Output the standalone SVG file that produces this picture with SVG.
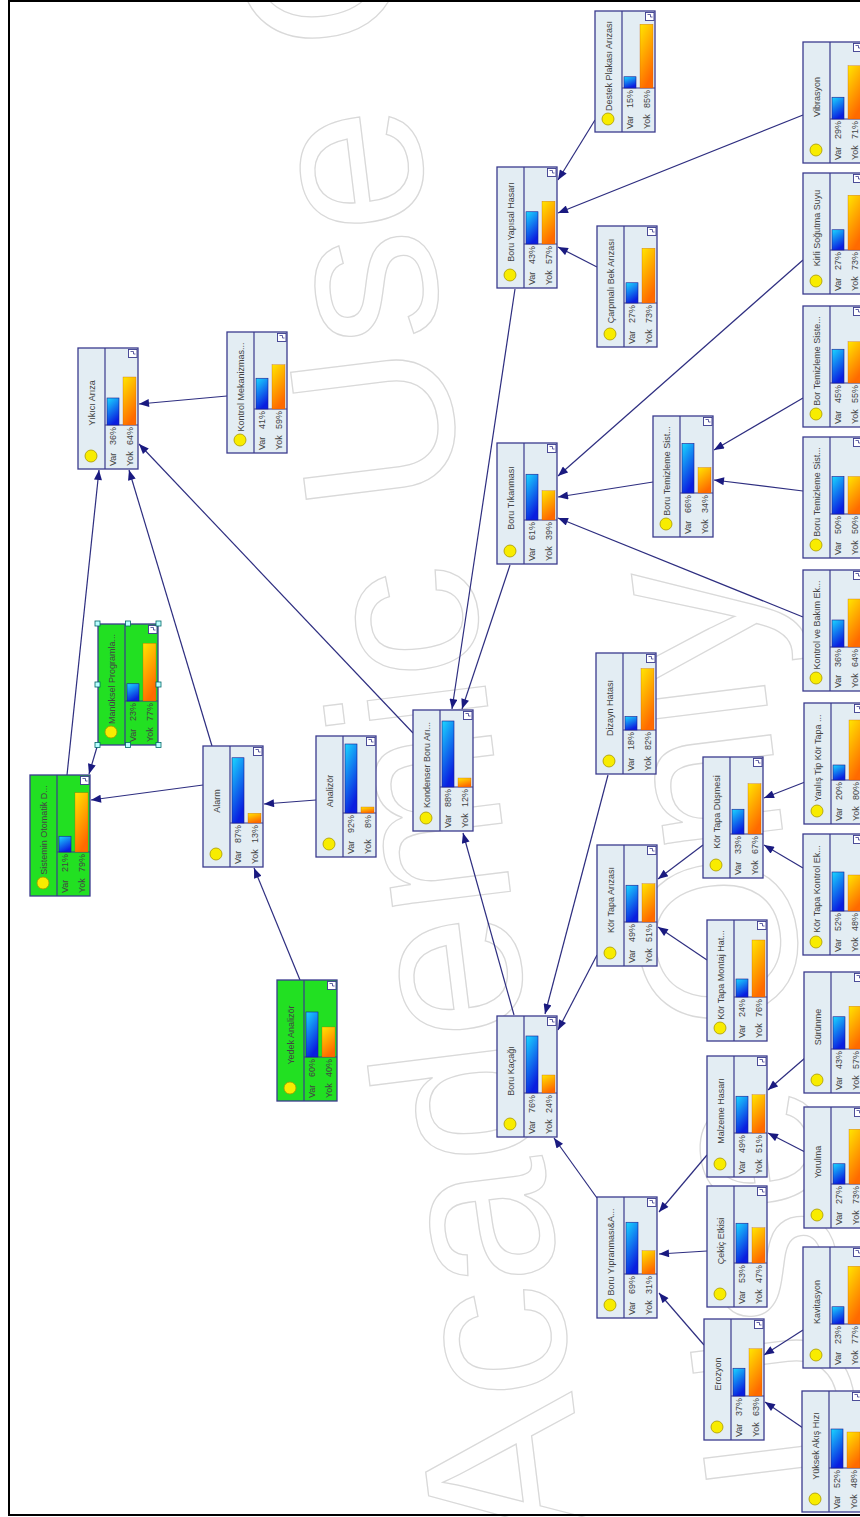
<svg xmlns="http://www.w3.org/2000/svg" xmlns:xlink="http://www.w3.org/1999/xlink" width="860" height="1517" viewBox="0 0 860 1517">
<style>
.t{font-family:"Liberation Sans",Arial,sans-serif;font-size:9px;fill:#444;text-anchor:middle}
.s{font-family:"Liberation Sans",Arial,sans-serif;font-size:9px;fill:#444}
.p{font-family:"Liberation Sans",Arial,sans-serif;font-size:9px;fill:#444;text-anchor:end}
.bb{fill:url(#gb);stroke:#1a1a90;stroke-width:0.6}
.bo{fill:url(#go);stroke:#c05000;stroke-width:0.3}
.n{fill:#e3edf3}
.g{fill:#22e022}
.h{fill:#bff;stroke:#066;stroke-width:0.8}
.wm{font-family:"Liberation Sans",Arial,sans-serif;font-size:225px;fill:none;stroke:#d9d9d9;stroke-width:1.3}
</style>
<defs>
<linearGradient id="gb" x1="0" y1="0" x2="0.4" y2="1"><stop offset="0" stop-color="#1ad8ff"/><stop offset="1" stop-color="#0a1ee0"/></linearGradient>
<linearGradient id="go" x1="0" y1="0" x2="0.4" y2="1"><stop offset="0" stop-color="#ffe600"/><stop offset="1" stop-color="#ff6a00"/></linearGradient>
<marker id="ar" markerUnits="userSpaceOnUse" viewBox="0 0 10 8" refX="10" refY="4" markerWidth="11" markerHeight="8" orient="auto"><path d="M0,0L10,4L0,8z" fill="#1a1a80"/></marker>
<g id="nf">
<rect x="0" y="0" width="60" height="121" stroke="#3b3b8e" stroke-width="1.3"/>
<path d="M27,0V121M27,77H60" stroke="#3b3b8e" stroke-width="1.2" fill="none"/>
<rect x="50.5" y="1.5" width="8.5" height="8" fill="#fff" stroke="#3b3b8e" stroke-width="0.9"/>
<path d="M52.5,3.5h3v2.5h2" stroke="#3b3b8e" stroke-width="0.8" fill="none"/>
<circle cx="13" cy="108" r="6" fill="#f8ec00" stroke="#a89800" stroke-width="0.8"/>
</g>
</defs>
<rect width="860" height="1517" fill="#fff"/>
<g id="watermark">
<text class="wm" transform="translate(590,1540) rotate(-97)">Academic Use Only</text>
<text class="wm" transform="translate(990,2520) rotate(-97)">Academic Use Only</text>
</g>
<path d="M860,1H9V1515H860" fill="none" stroke="#000" stroke-width="2"/>

<g id="edges" stroke="#2e2e80" stroke-width="1.2" fill="none" marker-end="url(#ar)">
<line x1="227" y1="396" x2="139" y2="404"/>
<line x1="413" y1="733" x2="139" y2="444"/>
<line x1="212" y1="746" x2="129" y2="470"/>
<line x1="67" y1="775" x2="99" y2="470"/>
<line x1="97" y1="747" x2="89" y2="774"/>
<line x1="203" y1="785" x2="91" y2="800"/>
<line x1="316" y1="800" x2="264" y2="804"/>
<line x1="300" y1="980" x2="254" y2="868"/>
<line x1="514" y1="1015" x2="463" y2="833"/>
<line x1="510" y1="565" x2="462" y2="709"/>
<line x1="515" y1="289" x2="452" y2="709"/>
<line x1="595" y1="120" x2="558" y2="180"/>
<line x1="803" y1="115" x2="558" y2="213"/>
<line x1="597" y1="267" x2="558" y2="247"/>
<line x1="803" y1="260" x2="558" y2="476"/>
<line x1="653" y1="482" x2="558" y2="497"/>
<line x1="803" y1="398" x2="714" y2="450"/>
<line x1="803" y1="491" x2="714" y2="480"/>
<line x1="803" y1="617" x2="558" y2="518"/>
<line x1="608" y1="775" x2="545" y2="1014"/>
<line x1="597" y1="955" x2="558" y2="1030"/>
<line x1="597" y1="1198" x2="554" y2="1138"/>
<line x1="703" y1="845" x2="658" y2="879"/>
<line x1="805" y1="782" x2="764" y2="798"/>
<line x1="803" y1="868" x2="764" y2="845"/>
<line x1="707" y1="960" x2="658" y2="927"/>
<line x1="805" y1="1058" x2="768" y2="1090"/>
<line x1="805" y1="1152" x2="768" y2="1133"/>
<line x1="707" y1="1155" x2="659" y2="1212"/>
<line x1="707" y1="1251" x2="659" y2="1254"/>
<line x1="704" y1="1345" x2="659" y2="1293"/>
<line x1="803" y1="1330" x2="764" y2="1355"/>
<line x1="803" y1="1428" x2="765" y2="1402"/>
</g>

<g id="n1" transform="translate(78,348)"><use xlink:href="#nf" class="n"/><rect class="bb" x="29" y="50" width="12" height="27"/><rect class="bo" x="45" y="29" width="13" height="48"/><text class="t" transform="translate(16.5,55) rotate(-90)">Yıkıcı Arıza</text><text class="s" transform="translate(37.5,118) rotate(-90)">Var</text><text class="p" transform="translate(37.5,79) rotate(-90)">36%</text><text class="s" transform="translate(54.5,118) rotate(-90)">Yok</text><text class="p" transform="translate(54.5,79) rotate(-90)">64%</text></g>

<g id="n2" transform="translate(227,332)"><use xlink:href="#nf" class="n"/><rect class="bb" x="29" y="46.25" width="12" height="30.75"/><rect class="bo" x="45" y="32.75" width="13" height="44.25"/><text class="t" transform="translate(16.5,55) rotate(-90)">Kontrol Mekanizmas...</text><text class="s" transform="translate(37.5,118) rotate(-90)">Var</text><text class="p" transform="translate(37.5,79) rotate(-90)">41%</text><text class="s" transform="translate(54.5,118) rotate(-90)">Yok</text><text class="p" transform="translate(54.5,79) rotate(-90)">59%</text></g>

<g id="n3" transform="translate(98,624)"><use xlink:href="#nf" class="g"/><rect class="bb" x="29" y="59.75" width="12" height="17.25"/><rect class="bo" x="45" y="19.25" width="13" height="57.75"/><text class="t" transform="translate(16.5,55) rotate(-90)">Manüksel Programla...</text><text class="s" transform="translate(37.5,118) rotate(-90)">Var</text><text class="p" transform="translate(37.5,79) rotate(-90)">23%</text><text class="s" transform="translate(54.5,118) rotate(-90)">Yok</text><text class="p" transform="translate(54.5,79) rotate(-90)">77%</text>
<rect class="h" x="-3" y="-3" width="5" height="5"/><rect class="h" x="27.5" y="-3" width="5" height="5"/><rect class="h" x="58" y="-3" width="5" height="5"/><rect class="h" x="-3" y="58" width="5" height="5"/><rect class="h" x="58" y="58" width="5" height="5"/><rect class="h" x="-3" y="118.5" width="5" height="5"/><rect class="h" x="27.5" y="118.5" width="5" height="5"/><rect class="h" x="58" y="118.5" width="5" height="5"/></g>

<g id="n4" transform="translate(30,775)"><use xlink:href="#nf" class="g"/><rect class="bb" x="29" y="61.25" width="12" height="15.75"/><rect class="bo" x="45" y="17.75" width="13" height="59.25"/><text class="t" transform="translate(16.5,55) rotate(-90)">Sistemin Otomatik D...</text><text class="s" transform="translate(37.5,118) rotate(-90)">Var</text><text class="p" transform="translate(37.5,79) rotate(-90)">21%</text><text class="s" transform="translate(54.5,118) rotate(-90)">Yok</text><text class="p" transform="translate(54.5,79) rotate(-90)">79%</text></g>

<g id="n5" transform="translate(203,746)"><use xlink:href="#nf" class="n"/><rect class="bb" x="29" y="11.75" width="12" height="65.25"/><rect class="bo" x="45" y="67.25" width="13" height="9.75"/><text class="t" transform="translate(16.5,55) rotate(-90)">Alarm</text><text class="s" transform="translate(37.5,118) rotate(-90)">Var</text><text class="p" transform="translate(37.5,79) rotate(-90)">87%</text><text class="s" transform="translate(54.5,118) rotate(-90)">Yok</text><text class="p" transform="translate(54.5,79) rotate(-90)">13%</text></g>

<g id="n6" transform="translate(316,736)"><use xlink:href="#nf" class="n"/><rect class="bb" x="29" y="8" width="12" height="69"/><rect class="bo" x="45" y="71" width="13" height="6"/><text class="t" transform="translate(16.5,55) rotate(-90)">Analizör</text><text class="s" transform="translate(37.5,118) rotate(-90)">Var</text><text class="p" transform="translate(37.5,79) rotate(-90)">92%</text><text class="s" transform="translate(54.5,118) rotate(-90)">Yok</text><text class="p" transform="translate(54.5,79) rotate(-90)">8%</text></g>

<g id="n7" transform="translate(277,980)"><use xlink:href="#nf" class="g"/><rect class="bb" x="29" y="32" width="12" height="45"/><rect class="bo" x="45" y="47" width="13" height="30"/><text class="t" transform="translate(16.5,55) rotate(-90)">Yedek Analizör</text><text class="s" transform="translate(37.5,118) rotate(-90)">Var</text><text class="p" transform="translate(37.5,79) rotate(-90)">60%</text><text class="s" transform="translate(54.5,118) rotate(-90)">Yok</text><text class="p" transform="translate(54.5,79) rotate(-90)">40%</text></g>

<g id="n8" transform="translate(413,710)"><use xlink:href="#nf" class="n"/><rect class="bb" x="29" y="11" width="12" height="66"/><rect class="bo" x="45" y="68" width="13" height="9"/><text class="t" transform="translate(16.5,55) rotate(-90)">Kondenser Boru Arı...</text><text class="s" transform="translate(37.5,118) rotate(-90)">Var</text><text class="p" transform="translate(37.5,79) rotate(-90)">88%</text><text class="s" transform="translate(54.5,118) rotate(-90)">Yok</text><text class="p" transform="translate(54.5,79) rotate(-90)">12%</text></g>

<g id="n9" transform="translate(497,167)"><use xlink:href="#nf" class="n"/><rect class="bb" x="29" y="44.75" width="12" height="32.25"/><rect class="bo" x="45" y="34.25" width="13" height="42.75"/><text class="t" transform="translate(16.5,55) rotate(-90)">Boru Yapısal Hasarı</text><text class="s" transform="translate(37.5,118) rotate(-90)">Var</text><text class="p" transform="translate(37.5,79) rotate(-90)">43%</text><text class="s" transform="translate(54.5,118) rotate(-90)">Yok</text><text class="p" transform="translate(54.5,79) rotate(-90)">57%</text></g>

<g id="n10" transform="translate(597,226)"><use xlink:href="#nf" class="n"/><rect class="bb" x="29" y="56.75" width="12" height="20.25"/><rect class="bo" x="45" y="22.25" width="13" height="54.75"/><text class="t" transform="translate(16.5,55) rotate(-90)">Çarpmalı Bek Arızası</text><text class="s" transform="translate(37.5,118) rotate(-90)">Var</text><text class="p" transform="translate(37.5,79) rotate(-90)">27%</text><text class="s" transform="translate(54.5,118) rotate(-90)">Yok</text><text class="p" transform="translate(54.5,79) rotate(-90)">73%</text></g>

<g id="n11" transform="translate(595,11)"><use xlink:href="#nf" class="n"/><rect class="bb" x="29" y="65.75" width="12" height="11.25"/><rect class="bo" x="45" y="13.25" width="13" height="63.75"/><text class="t" transform="translate(16.5,55) rotate(-90)">Destek Plakası Arızası</text><text class="s" transform="translate(37.5,118) rotate(-90)">Var</text><text class="p" transform="translate(37.5,79) rotate(-90)">15%</text><text class="s" transform="translate(54.5,118) rotate(-90)">Yok</text><text class="p" transform="translate(54.5,79) rotate(-90)">85%</text></g>

<g id="n12" transform="translate(803,42)"><use xlink:href="#nf" class="n"/><rect class="bb" x="29" y="55.25" width="12" height="21.75"/><rect class="bo" x="45" y="23.75" width="13" height="53.25"/><text class="t" transform="translate(16.5,55) rotate(-90)">Vibrasyon</text><text class="s" transform="translate(37.5,118) rotate(-90)">Var</text><text class="p" transform="translate(37.5,79) rotate(-90)">29%</text><text class="s" transform="translate(54.5,118) rotate(-90)">Yok</text><text class="p" transform="translate(54.5,79) rotate(-90)">71%</text></g>

<g id="n13" transform="translate(803,173)"><use xlink:href="#nf" class="n"/><rect class="bb" x="29" y="56.75" width="12" height="20.25"/><rect class="bo" x="45" y="22.25" width="13" height="54.75"/><text class="t" transform="translate(16.5,55) rotate(-90)">Kirli Soğutma Suyu</text><text class="s" transform="translate(37.5,118) rotate(-90)">Var</text><text class="p" transform="translate(37.5,79) rotate(-90)">27%</text><text class="s" transform="translate(54.5,118) rotate(-90)">Yok</text><text class="p" transform="translate(54.5,79) rotate(-90)">73%</text></g>

<g id="n14" transform="translate(803,306)"><use xlink:href="#nf" class="n"/><rect class="bb" x="29" y="43.25" width="12" height="33.75"/><rect class="bo" x="45" y="35.75" width="13" height="41.25"/><text class="t" transform="translate(16.5,55) rotate(-90)">Bor Temizleme Siste...</text><text class="s" transform="translate(37.5,118) rotate(-90)">Var</text><text class="p" transform="translate(37.5,79) rotate(-90)">45%</text><text class="s" transform="translate(54.5,118) rotate(-90)">Yok</text><text class="p" transform="translate(54.5,79) rotate(-90)">55%</text></g>

<g id="n15" transform="translate(803,437)"><use xlink:href="#nf" class="n"/><rect class="bb" x="29" y="39.5" width="12" height="37.5"/><rect class="bo" x="45" y="39.5" width="13" height="37.5"/><text class="t" transform="translate(16.5,55) rotate(-90)">Boru Temizleme Sist...</text><text class="s" transform="translate(37.5,118) rotate(-90)">Var</text><text class="p" transform="translate(37.5,79) rotate(-90)">50%</text><text class="s" transform="translate(54.5,118) rotate(-90)">Yok</text><text class="p" transform="translate(54.5,79) rotate(-90)">50%</text></g>

<g id="n16" transform="translate(653,416)"><use xlink:href="#nf" class="n"/><rect class="bb" x="29" y="27.5" width="12" height="49.5"/><rect class="bo" x="45" y="51.5" width="13" height="25.5"/><text class="t" transform="translate(16.5,55) rotate(-90)">Boru Temizleme Sist...</text><text class="s" transform="translate(37.5,118) rotate(-90)">Var</text><text class="p" transform="translate(37.5,79) rotate(-90)">66%</text><text class="s" transform="translate(54.5,118) rotate(-90)">Yok</text><text class="p" transform="translate(54.5,79) rotate(-90)">34%</text></g>

<g id="n17" transform="translate(497,443)"><use xlink:href="#nf" class="n"/><rect class="bb" x="29" y="31.25" width="12" height="45.75"/><rect class="bo" x="45" y="47.75" width="13" height="29.25"/><text class="t" transform="translate(16.5,55) rotate(-90)">Boru Tıkanması</text><text class="s" transform="translate(37.5,118) rotate(-90)">Var</text><text class="p" transform="translate(37.5,79) rotate(-90)">61%</text><text class="s" transform="translate(54.5,118) rotate(-90)">Yok</text><text class="p" transform="translate(54.5,79) rotate(-90)">39%</text></g>

<g id="n18" transform="translate(803,570)"><use xlink:href="#nf" class="n"/><rect class="bb" x="29" y="50" width="12" height="27"/><rect class="bo" x="45" y="29" width="13" height="48"/><text class="t" transform="translate(16.5,55) rotate(-90)">Kontrol ve Bakım Ek...</text><text class="s" transform="translate(37.5,118) rotate(-90)">Var</text><text class="p" transform="translate(37.5,79) rotate(-90)">36%</text><text class="s" transform="translate(54.5,118) rotate(-90)">Yok</text><text class="p" transform="translate(54.5,79) rotate(-90)">64%</text></g>

<g id="n19" transform="translate(596,653)"><use xlink:href="#nf" class="n"/><rect class="bb" x="29" y="63.5" width="12" height="13.5"/><rect class="bo" x="45" y="15.5" width="13" height="61.5"/><text class="t" transform="translate(16.5,55) rotate(-90)">Dizayn Hatası</text><text class="s" transform="translate(37.5,118) rotate(-90)">Var</text><text class="p" transform="translate(37.5,79) rotate(-90)">18%</text><text class="s" transform="translate(54.5,118) rotate(-90)">Yok</text><text class="p" transform="translate(54.5,79) rotate(-90)">82%</text></g>

<g id="n20" transform="translate(804,703)"><use xlink:href="#nf" class="n"/><rect class="bb" x="29" y="62" width="12" height="15"/><rect class="bo" x="45" y="17" width="13" height="60"/><text class="t" transform="translate(16.5,55) rotate(-90)">Yanlış Tip Kör Tapa ...</text><text class="s" transform="translate(37.5,118) rotate(-90)">Var</text><text class="p" transform="translate(37.5,79) rotate(-90)">20%</text><text class="s" transform="translate(54.5,118) rotate(-90)">Yok</text><text class="p" transform="translate(54.5,79) rotate(-90)">80%</text></g>

<g id="n21" transform="translate(703,757)"><use xlink:href="#nf" class="n"/><rect class="bb" x="29" y="52.25" width="12" height="24.75"/><rect class="bo" x="45" y="26.75" width="13" height="50.25"/><text class="t" transform="translate(16.5,55) rotate(-90)">Kör Tapa Düşmesi</text><text class="s" transform="translate(37.5,118) rotate(-90)">Var</text><text class="p" transform="translate(37.5,79) rotate(-90)">33%</text><text class="s" transform="translate(54.5,118) rotate(-90)">Yok</text><text class="p" transform="translate(54.5,79) rotate(-90)">67%</text></g>

<g id="n22" transform="translate(803,834)"><use xlink:href="#nf" class="n"/><rect class="bb" x="29" y="38" width="12" height="39"/><rect class="bo" x="45" y="41" width="13" height="36"/><text class="t" transform="translate(16.5,55) rotate(-90)">Kör Tapa Kontrol Ek...</text><text class="s" transform="translate(37.5,118) rotate(-90)">Var</text><text class="p" transform="translate(37.5,79) rotate(-90)">52%</text><text class="s" transform="translate(54.5,118) rotate(-90)">Yok</text><text class="p" transform="translate(54.5,79) rotate(-90)">48%</text></g>

<g id="n23" transform="translate(597,845)"><use xlink:href="#nf" class="n"/><rect class="bb" x="29" y="40.25" width="12" height="36.75"/><rect class="bo" x="45" y="38.75" width="13" height="38.25"/><text class="t" transform="translate(16.5,55) rotate(-90)">Kör Tapa Arızası</text><text class="s" transform="translate(37.5,118) rotate(-90)">Var</text><text class="p" transform="translate(37.5,79) rotate(-90)">49%</text><text class="s" transform="translate(54.5,118) rotate(-90)">Yok</text><text class="p" transform="translate(54.5,79) rotate(-90)">51%</text></g>

<g id="n24" transform="translate(707,920)"><use xlink:href="#nf" class="n"/><rect class="bb" x="29" y="59" width="12" height="18"/><rect class="bo" x="45" y="20" width="13" height="57"/><text class="t" transform="translate(16.5,55) rotate(-90)">Kör Tapa Montaj Hat...</text><text class="s" transform="translate(37.5,118) rotate(-90)">Var</text><text class="p" transform="translate(37.5,79) rotate(-90)">24%</text><text class="s" transform="translate(54.5,118) rotate(-90)">Yok</text><text class="p" transform="translate(54.5,79) rotate(-90)">76%</text></g>

<g id="n25" transform="translate(804,972)"><use xlink:href="#nf" class="n"/><rect class="bb" x="29" y="44.75" width="12" height="32.25"/><rect class="bo" x="45" y="34.25" width="13" height="42.75"/><text class="t" transform="translate(16.5,55) rotate(-90)">Sürünme</text><text class="s" transform="translate(37.5,118) rotate(-90)">Var</text><text class="p" transform="translate(37.5,79) rotate(-90)">43%</text><text class="s" transform="translate(54.5,118) rotate(-90)">Yok</text><text class="p" transform="translate(54.5,79) rotate(-90)">57%</text></g>

<g id="n26" transform="translate(707,1056)"><use xlink:href="#nf" class="n"/><rect class="bb" x="29" y="40.25" width="12" height="36.75"/><rect class="bo" x="45" y="38.75" width="13" height="38.25"/><text class="t" transform="translate(16.5,55) rotate(-90)">Malzeme Hasarı</text><text class="s" transform="translate(37.5,118) rotate(-90)">Var</text><text class="p" transform="translate(37.5,79) rotate(-90)">49%</text><text class="s" transform="translate(54.5,118) rotate(-90)">Yok</text><text class="p" transform="translate(54.5,79) rotate(-90)">51%</text></g>

<g id="n27" transform="translate(804,1107)"><use xlink:href="#nf" class="n"/><rect class="bb" x="29" y="56.75" width="12" height="20.25"/><rect class="bo" x="45" y="22.25" width="13" height="54.75"/><text class="t" transform="translate(16.5,55) rotate(-90)">Yorulma</text><text class="s" transform="translate(37.5,118) rotate(-90)">Var</text><text class="p" transform="translate(37.5,79) rotate(-90)">27%</text><text class="s" transform="translate(54.5,118) rotate(-90)">Yok</text><text class="p" transform="translate(54.5,79) rotate(-90)">73%</text></g>

<g id="n28" transform="translate(497,1016)"><use xlink:href="#nf" class="n"/><rect class="bb" x="29" y="20" width="12" height="57"/><rect class="bo" x="45" y="59" width="13" height="18"/><text class="t" transform="translate(16.5,55) rotate(-90)">Boru Kaçağı</text><text class="s" transform="translate(37.5,118) rotate(-90)">Var</text><text class="p" transform="translate(37.5,79) rotate(-90)">76%</text><text class="s" transform="translate(54.5,118) rotate(-90)">Yok</text><text class="p" transform="translate(54.5,79) rotate(-90)">24%</text></g>

<g id="n29" transform="translate(597,1197)"><use xlink:href="#nf" class="n"/><rect class="bb" x="29" y="25.25" width="12" height="51.75"/><rect class="bo" x="45" y="53.75" width="13" height="23.25"/><text class="t" transform="translate(16.5,55) rotate(-90)">Boru Yıpranması&amp;A...</text><text class="s" transform="translate(37.5,118) rotate(-90)">Var</text><text class="p" transform="translate(37.5,79) rotate(-90)">69%</text><text class="s" transform="translate(54.5,118) rotate(-90)">Yok</text><text class="p" transform="translate(54.5,79) rotate(-90)">31%</text></g>

<g id="n30" transform="translate(707,1186)"><use xlink:href="#nf" class="n"/><rect class="bb" x="29" y="37.25" width="12" height="39.75"/><rect class="bo" x="45" y="41.75" width="13" height="35.25"/><text class="t" transform="translate(16.5,55) rotate(-90)">Çekiç Etkisi</text><text class="s" transform="translate(37.5,118) rotate(-90)">Var</text><text class="p" transform="translate(37.5,79) rotate(-90)">53%</text><text class="s" transform="translate(54.5,118) rotate(-90)">Yok</text><text class="p" transform="translate(54.5,79) rotate(-90)">47%</text></g>

<g id="n31" transform="translate(803,1247)"><use xlink:href="#nf" class="n"/><rect class="bb" x="29" y="59.75" width="12" height="17.25"/><rect class="bo" x="45" y="19.25" width="13" height="57.75"/><text class="t" transform="translate(16.5,55) rotate(-90)">Kavitasyon</text><text class="s" transform="translate(37.5,118) rotate(-90)">Var</text><text class="p" transform="translate(37.5,79) rotate(-90)">23%</text><text class="s" transform="translate(54.5,118) rotate(-90)">Yok</text><text class="p" transform="translate(54.5,79) rotate(-90)">77%</text></g>

<g id="n32" transform="translate(704,1319)"><use xlink:href="#nf" class="n"/><rect class="bb" x="29" y="49.25" width="12" height="27.75"/><rect class="bo" x="45" y="29.75" width="13" height="47.25"/><text class="t" transform="translate(16.5,55) rotate(-90)">Erozyon</text><text class="s" transform="translate(37.5,118) rotate(-90)">Var</text><text class="p" transform="translate(37.5,79) rotate(-90)">37%</text><text class="s" transform="translate(54.5,118) rotate(-90)">Yok</text><text class="p" transform="translate(54.5,79) rotate(-90)">63%</text></g>

<g id="n33" transform="translate(802,1391)"><use xlink:href="#nf" class="n"/><rect class="bb" x="29" y="38" width="12" height="39"/><rect class="bo" x="45" y="41" width="13" height="36"/><text class="t" transform="translate(16.5,55) rotate(-90)">Yüksek Akış Hızı</text><text class="s" transform="translate(37.5,118) rotate(-90)">Var</text><text class="p" transform="translate(37.5,79) rotate(-90)">52%</text><text class="s" transform="translate(54.5,118) rotate(-90)">Yok</text><text class="p" transform="translate(54.5,79) rotate(-90)">48%</text></g>
</svg>
